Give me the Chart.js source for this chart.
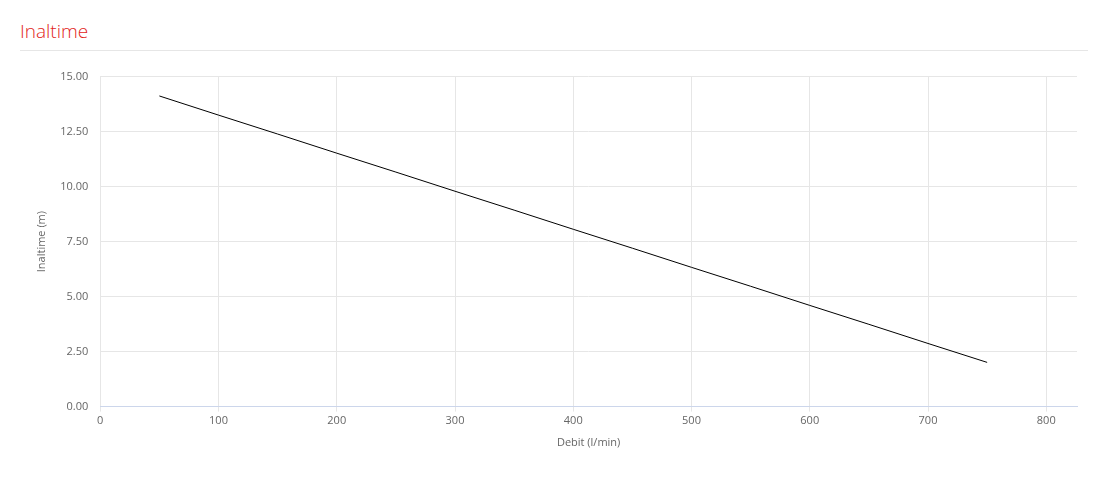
<!DOCTYPE html>
<html>
<head>
<meta charset="utf-8">
<script src="https://cdn.jsdelivr.net/npm/chart.js@4"></script>
<style>
  body { margin: 0; background: #fff; font-family: "Open Sans", sans-serif; }
  .head { position: absolute; left: 20px; top: 18px; width: 1068px; height: 32px; border-bottom: 1px solid #e6e6e6; }
  .head h3 { margin: 0; font-weight: 300; font-size: 19px; color: #e2231a; line-height: 26px; }
  .box { position: absolute; left: 20px; top: 58px; width: 1068px; height: 410px; }
</style>
</head>
<body>
<div class="head"><h3>Inaltime</h3></div>
<div class="box"><canvas id="myChart"></canvas></div>
<script>
// debit (l/min) vs inaltime (m)
const debit = [50, 100, 150, 200, 250, 300, 350, 400, 450, 500, 550, 600, 650, 700, 750];
const inaltime = [14.12, 13.25, 12.39, 11.52, 10.66, 9.79, 8.93, 8.06, 7.20, 6.33, 5.47, 4.60, 3.74, 2.87, 2.01];
const xTitle = 'Debit (l/min)';
const yTitle = 'Inaltime (m)';

Chart.defaults.font.family = '"Open Sans", sans-serif';
Chart.defaults.font.size = 11;
Chart.defaults.color = '#666';

const ctx = document.getElementById('myChart');

new Chart(ctx, {
  type: 'line',
  data: {
    datasets: [{
      label: yTitle,
      data: debit.map((d, i) => ({ x: d, y: inaltime[i] })),
      borderColor: '#000',
      borderWidth: 1,
      pointRadius: 0,
      tension: 0,
      fill: false
    }]
  },
  options: {
    responsive: true,
    maintainAspectRatio: false,
    animation: false,
    layout: { padding: { top: 0, right: 11, bottom: 15, left: 3 } },
    plugins: { legend: { display: false }, tooltip: { enabled: false } },
    scales: {
      x: {
        type: 'linear',
        min: 0,
        max: 826,
        ticks: { stepSize: 100, includeBounds: false, padding: 3 },
        grid: { color: '#e6e6e6', tickLength: 5 },
        border: { color: '#ccd6eb' },
        title: { display: true, text: xTitle, padding: { top: 5 } }
      },
      y: {
        min: 0,
        max: 15,
        ticks: { stepSize: 2.5, padding: 12, callback: v => v.toFixed(2) },
        grid: { color: '#e6e6e6', drawTicks: false },
        border: { display: false },
        title: { display: true, text: yTitle, padding: { top: 12, bottom: 0 } }
      }
    }
  }
});
</script>
</body>
</html>
